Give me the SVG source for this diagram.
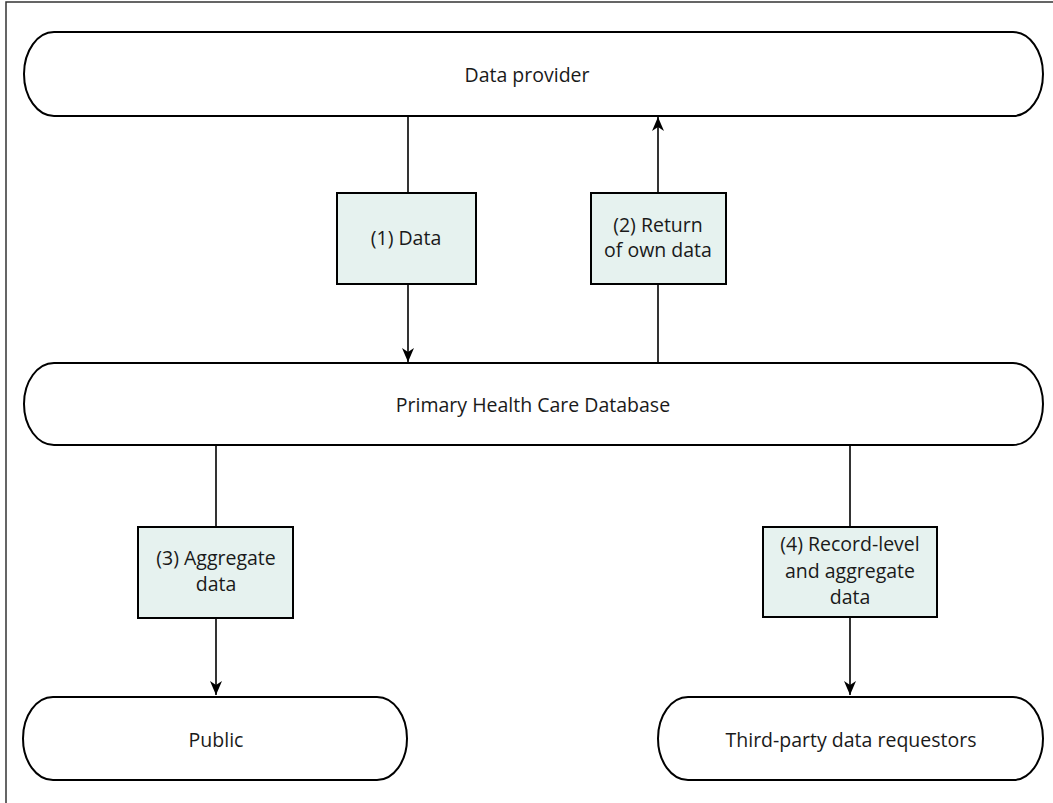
<svg xmlns="http://www.w3.org/2000/svg" width="1053" height="803" viewBox="0 0 1053 803">
<defs>
<style>
.term{fill:#fff;stroke:#000;stroke-width:2}
.box{fill:#e6f2ef;stroke:#000;stroke-width:2}
.t{font-family:"Open Sans","Noto Sans",sans-serif;font-size:19.5px;fill:#1a1a1a;text-anchor:middle}
.c{stroke:#000;stroke-width:1.6;fill:none}
</style>
<marker id="ah" markerWidth="14" markerHeight="12" refX="14" refY="6" orient="auto" markerUnits="userSpaceOnUse" viewBox="0 0 14 12">
<path d="M0,0 L14,6 L0,12 L4,6 Z" fill="#000"/>
</marker>
</defs>
<rect x="6" y="2" width="1060" height="820" fill="none" stroke="#333" stroke-width="1.5"/>
<g id="connectors">
<line class="c" x1="408" y1="116" x2="408" y2="362" marker-end="url(#ah)"/>
<line class="c" x1="658" y1="363" x2="658" y2="117" marker-end="url(#ah)"/>
<line class="c" x1="216" y1="445" x2="216" y2="695" marker-end="url(#ah)"/>
<line class="c" x1="850" y1="445" x2="850" y2="695" marker-end="url(#ah)"/>
</g>
<g id="data-provider">
<rect class="term" x="24" y="32" width="1019" height="84" rx="30" ry="42"/>
<text class="t" x="527" y="82">Data provider</text>
</g>
<g id="phcd">
<rect class="term" x="24" y="363" width="1019" height="82" rx="30" ry="41"/>
<text class="t" x="533" y="412">Primary Health Care Database</text>
</g>
<g id="public">
<rect class="term" x="23" y="697" width="384" height="83" rx="30" ry="41.5"/>
<text class="t" x="216" y="747">Public</text>
</g>
<g id="third-party">
<rect class="term" x="658" y="697" width="385" height="83" rx="30" ry="41.5"/>
<text class="t" x="851" y="747">Third-party data requestors</text>
</g>
<g id="label1">
<rect class="box" x="337" y="193" width="139" height="91"/>
<text class="t" x="406" y="245">(1) Data</text>
</g>
<g id="label2">
<rect class="box" x="591" y="193" width="135" height="91"/>
<text class="t" x="658" y="232">(2) Return</text>
<text class="t" x="658" y="257">of own data</text>
</g>
<g id="label3">
<rect class="box" x="138" y="527" width="155" height="91"/>
<text class="t" x="216" y="565">(3) Aggregate</text>
<text class="t" x="216" y="591">data</text>
</g>
<g id="label4">
<rect class="box" x="763" y="527" width="174" height="90"/>
<text class="t" x="850" y="551">(4) Record-level</text>
<text class="t" x="850" y="578">and aggregate</text>
<text class="t" x="850" y="604">data</text>
</g>
</svg>
